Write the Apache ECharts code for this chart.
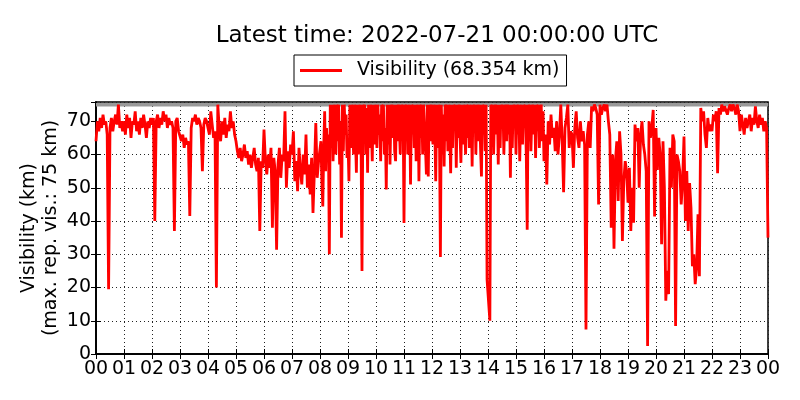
<!DOCTYPE html>
<html>
<head>
<meta charset="utf-8">
<script src="https://cdn.jsdelivr.net/npm/echarts@6/dist/echarts.min.js"></script>
<style>
html,body{margin:0;padding:0;background:#fff;}
#chart{width:800px;height:400px;}
</style>
</head>
<body>
<div id="chart"></div>
<script>
const titleText = "Latest time: 2022-07-21 00:00:00 UTC";
const seriesName = "Visibility (68.354 km)";
const yAxisName = "Visibility (km)\n(max. rep. vis.: 75 km)";
const maxReported = 75;
const hourLabels = ["00","01","02","03","04","05","06","07","08","09","10","11",
  "12","13","14","15","16","17","18","19","20","21","22","23","00"];
const yTicks = [0,10,20,30,40,50,60,70];

// visibility (km) samples, evenly spaced within each hour (UTC)
const h00 = [64,70,67,71,68,72,69,70,66,19.5,68,71,67,70,72,69,75,68,70,67];
const h01 = [70,66,72,68,71,65,70,69,73,67,70,66,71,68,72,69,65,70,68,71];
const h02 = [69,71,40,70,72,68,71,69,73,70,72,68,71,69,70,68,37,70,71,67];
const h03 = [67,64,66,62,65,63,64,41.5,68,71,70,72,69,71,70,68,55,69,71,70];
const h04 = [68,66,73,69,65,67,20,75,68,64,70,66,71,65,69,67,73,68,70,66];
const h05 = [64,61,59,62,58,60,63,59,61,57,60,56,59,62,57,55,59,37,58,56];
const h06 = [67.5,58,54,60,56,62,38,59,55,31.4,57,62,53,60,58,73,50,61,56,63];
const h07 = [60,67,52,58,49,62,55,51,60,54,66,50,57,48,59,42.4,55,69.5,53,58];
const h08 = [58,64,52,44.4,62,73,55,68,60,66,30,75,62,75,58,72,75,60,75,64,75,57,70,35,75,61,75,66,72,59];
const h09 = [64,52,75,62,75,68,60,75,65,54.5,75,60,72,75,63,25,75,66,75,60,74,54.5,75,62,75,68,58,75,63,75];
const h10 = [75,62,75,66,72,58,75,64,75,60,68,49.5,75,63,75,57,72,75,65,75,61,58,75,64,75,68,60,75,66,75];
const h11 = [39.4,75,64,75,60,72,75,51,75,66,75,62,75,58,70,75,52,75,65,75,60,75,68,62,54,75,53.4,75,64,75];
const h12 = [75,63,75,68,52,75,62,75,66,29.2,75,60,72,56.4,75,64,75,61,75,67,54.4,75,62,75,70,75,56,75,65,75];
const h13 = [66,57.5,75,63,75,68,60,75,65,75,62,72,75,56.4,75,67,75,60,75,64,70,75,62,53.4,75,66,75,61,75,22.4];
const h14 = [23,22,10,75,64,75,60,72,75,66,75,57,75,62,75,68,75,60,72,75,64,75,66,75,53,75,62,75,68,75];
const h15 = [60,75,66,75,58,72,75,63,75,68,75,60,37.4,75,64,75,61,72,75,66,75,59,75,67,75,62,70,75,64,73];
const h16 = [58,66,51,70,63,72,65,68,61,70,60,66,75,64,48.7,68,71,75,62,67];
const h17 = [66,56,68,73,65,62,70,64,67,63,7.4,66,70,62,74.5,73,75,74,72,45];
const h18 = [75,72,74,75,73,75,70,66,38,60,31.7,58,64,46,67,60,34,52,58,55];
const h19 = [45.5,56,37,50,39.5,69,64,68,50,66,70,63,60,55,2.4,70,65,68,73.4,41.4];
const h20 = [68,55.4,65,60,33,64,50,16,25,18,62,50,66,64,8.4,60,58,55,45,52];
const h21 = [65.4,40,55,37,51.4,44,26.4,30,21,26,42,23.4,74,70,73,66,62,71,67,69];
const h22 = [67,72,70,73,54.4,74,72,75,73,74.5,75,72,74,75,73,75,74,72,75,73];
const h23 = [67,72,69,66,71,68,70,72,67,71,69,74.5,70,68,72,69,71,67,70,68];
const lastValue = 35; // at 24:00

const hourly = [h00,h01,h02,h03,h04,h05,h06,h07,h08,h09,h10,h11,
  h12,h13,h14,h15,h16,h17,h18,h19,h20,h21,h22,h23];
const data = [];
hourly.forEach((arr, h) => arr.forEach((v, j) => data.push([h + j / arr.length, v])));
data.push([24, lastValue]);
const maxLine = [[0, maxReported], [24, maxReported]];

const FONT = "DejaVu Sans";
const dotted = {show:true, lineStyle:{color:'#222', width:1, type:[1,3]}};
const Y_MAX = 75.8;

const chart = echarts.init(document.getElementById('chart'), null, {renderer:'canvas'});
chart.setOption({
  animation:false,
  backgroundColor:'#fff',
  textStyle:{fontFamily:FONT},
  title:{
    text:titleText, left:432, top:20, textAlign:'center',
    textStyle:{fontFamily:FONT, fontSize:23, fontWeight:'normal', color:'#000'}
  },
  legend:{
    left:294, top:55, orient:'horizontal',
    borderColor:'#000', borderWidth:1, borderRadius:0,
    padding:[6,7,6,6],
    icon:'rect', itemWidth:42, itemHeight:3,
    textStyle:{fontFamily:FONT, fontSize:19, color:'#000', padding:[0,0,0,10]},
    data:[seriesName]
  },
  grid:{left:96, right:32, top:102, bottom:46, show:true, borderColor:'#000', borderWidth:1.5, backgroundColor:'transparent'},
  xAxis:[{
    type:'value', min:0, max:24, interval:1,
    axisLine:{show:true, lineStyle:{color:'#000', width:1.5}},
    axisTick:{show:true, inside:true, length:5, lineStyle:{color:'#000'}},
    axisLabel:{fontFamily:FONT, fontSize:19, color:'#000', margin:6,
      formatter:v => hourLabels[Math.round(v)]},
    splitLine:dotted
  },{
    type:'value', min:0, max:24, interval:1, position:'top',
    axisLine:{show:true, lineStyle:{color:'#000', width:1.5}},
    axisTick:{show:true, inside:true, length:5, lineStyle:{color:'#000'}},
    axisLabel:{show:false}, splitLine:{show:false}
  }],
  yAxis:[{
    type:'value', min:0, max:Y_MAX, interval:10,
    name:yAxisName, nameLocation:'middle', nameGap:34, nameMoveOverlap:false,
    nameTextStyle:{fontFamily:FONT, fontSize:19, color:'#000', lineHeight:22},
    axisLine:{show:true, lineStyle:{color:'#000', width:1.5}},
    axisTick:{show:true, inside:true, length:5, lineStyle:{color:'#000'}},
    axisLabel:{fontFamily:FONT, fontSize:19, color:'#000', margin:5, showMaxLabel:false,
      formatter:v => yTicks.indexOf(v) >= 0 ? String(v) : ''},
    splitLine:dotted
  },{
    type:'value', min:0, max:Y_MAX, interval:10, position:'right',
    axisLine:{show:true, lineStyle:{color:'#000', width:1.5}},
    axisTick:{show:true, inside:true, length:5, lineStyle:{color:'#000'}},
    axisLabel:{show:false}, splitLine:{show:false}
  }],
  series:[{
    name:'max', type:'line', data:maxLine, z:1,
    xAxisIndex:0, yAxisIndex:0, silent:true,
    showSymbol:false, symbol:'none',
    lineStyle:{color:'#999', width:3.5}
  },{
    name:seriesName, type:'line', data:data, z:3,
    xAxisIndex:0, yAxisIndex:0,
    showSymbol:false, symbol:'none',
    lineStyle:{color:'#ff0000', width:2.8},
    itemStyle:{color:'#ff0000'}
  }]
});
</script>
</body>
</html>
